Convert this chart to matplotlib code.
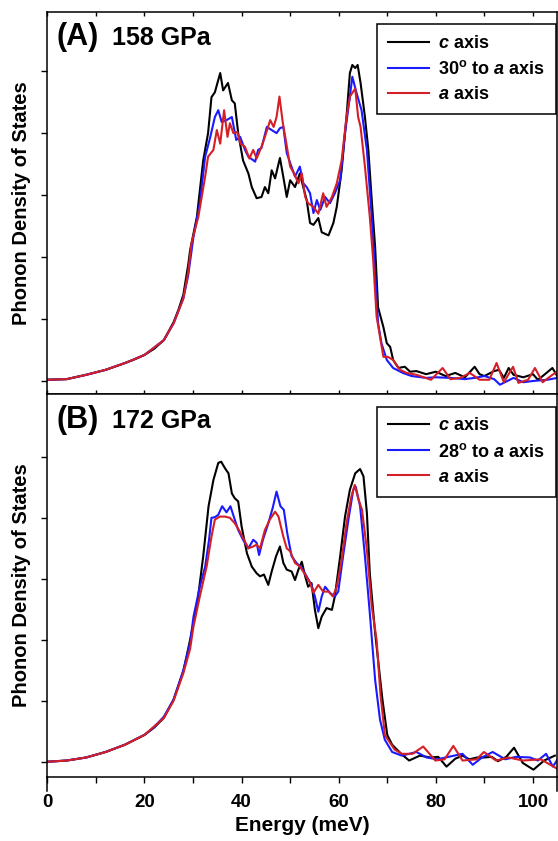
import numpy as np
import matplotlib
matplotlib.use("Agg")
import matplotlib.pyplot as plt

plt.rcParams['font.family'] = ['Liberation Sans', 'DejaVu Sans']
plt.rcParams['font.weight'] = 'bold'
plt.rcParams['mathtext.fontset'] = 'custom'
plt.rcParams['mathtext.rm'] = 'Liberation Sans:bold'
plt.rcParams['mathtext.it'] = 'Liberation Sans:italic:bold'
plt.rcParams['mathtext.bf'] = 'Liberation Sans:bold'

# energy (meV), phonon DOS (arb. units)
a_c = np.array([
    (0, 0.02), (4, 0.03), (8, 0.10), (12, 0.18), (16, 0.29), (18, 0.35), (20, 0.42), (22, 0.52),
    (24, 0.66), (26, 0.95), (27, 1.15), (28, 1.39), (29, 1.87), (29.4, 2.11), (30.8, 2.65),
    (32.1, 3.56), (33.1, 4.00), (33.8, 4.58), (34.5, 4.66), (35.6, 4.97), (36.2, 4.69),
    (37.2, 4.81), (38.0, 4.53), (38.6, 4.48), (39.3, 4.00), (40.3, 3.56), (41.4, 3.35),
    (42.1, 3.13), (43.1, 2.95), (44.1, 2.97), (44.8, 3.13), (45.5, 3.03), (46.2, 3.40),
    (46.9, 3.27), (47.9, 3.60), (48.6, 3.29), (49.3, 2.97), (50.0, 3.24), (51.0, 3.13),
    (52.0, 3.35), (52.7, 3.13), (53.4, 2.92), (54.1, 2.55), (54.8, 2.52), (55.8, 2.63),
    (56.5, 2.40), (57.9, 2.35), (58.9, 2.55), (59.6, 2.81), (60.6, 3.40), (61.6, 4.26),
    (62.3, 4.97), (62.8, 5.10), (63.4, 5.05), (63.9, 5.10), (64.5, 4.81), (65.4, 4.26),
    (66.1, 3.73), (66.8, 2.92), (67.5, 2.16), (68.1, 1.19), (69.2, 0.87), (69.9, 0.61),
    (70.6, 0.55), (71.2, 0.34), (72.3, 0.21), (73.6, 0.23), (74.7, 0.15), (76, 0.16),
    (78, 0.11), (80, 0.15), (82, 0.08), (84, 0.13), (86, 0.06), (88, 0.23), (89, 0.11),
    (90, 0.08), (92, 0.16), (93, 0.18), (94, 0.05), (95, 0.21), (96, 0.10), (98, 0.06),
    (100, 0.11), (101, 0.02), (102, 0.08), (104, 0.21), (105, 0.08)])

a_30 = np.array([
    (0, 0.02), (4, 0.03), (8, 0.10), (12, 0.18), (16, 0.29), (20, 0.42), (24, 0.66), (26, 0.93),
    (28, 1.33), (29, 1.70), (30.1, 2.33), (31.4, 2.87), (32.5, 3.62), (33.5, 3.92), (34.5, 4.26),
    (35.2, 4.37), (35.9, 4.18), (36.9, 4.21), (38.0, 4.26), (38.9, 3.89), (39.7, 3.94),
    (40.7, 3.73), (41.4, 3.62), (42.8, 3.54), (43.4, 3.73), (44.1, 3.76), (45.2, 4.10),
    (46.2, 4.05), (47.2, 4.00), (47.9, 4.08), (48.6, 4.10), (49.3, 3.68), (50.0, 3.52),
    (51.0, 3.30), (52.0, 3.46), (52.7, 3.19), (53.4, 3.13), (54.1, 3.03), (54.8, 2.71),
    (55.5, 2.92), (56.2, 2.76), (57.2, 2.97), (58.2, 2.87), (59.2, 3.03), (60.3, 3.24),
    (61.3, 4.00), (62.2, 4.53), (62.8, 4.91), (63.7, 4.64), (64.7, 4.37), (65.8, 3.73),
    (66.8, 2.65), (67.5, 1.74), (68.1, 0.94), (68.8, 0.61), (69.9, 0.34), (71.2, 0.21),
    (73.2, 0.13), (75, 0.08), (78, 0.05), (80, 0.06), (83, 0.05), (86, 0.03), (88, 0.05),
    (90, 0.08), (92, 0.03), (93.2, -0.06), (96, 0.05), (98, -0.02), (100, 0.0), (103, 0.02),
    (105, 0.05)])

a_a = np.array([
    (0, 0.02), (4, 0.03), (8, 0.10), (12, 0.18), (16, 0.29), (20, 0.42), (24, 0.66), (26, 0.93),
    (28, 1.33), (29, 1.75), (29.7, 2.23), (31.1, 2.65), (32.5, 3.30), (33.1, 3.62), (34.2, 3.73),
    (34.9, 4.05), (35.6, 3.83), (36.4, 4.37), (37.1, 3.94), (37.6, 4.16), (38.3, 4.00),
    (39.1, 4.02), (39.8, 3.83), (40.7, 3.78), (41.6, 3.59), (42.4, 3.73), (43.1, 3.59),
    (44.1, 3.78), (44.8, 3.94), (45.9, 4.21), (46.6, 4.10), (47.2, 4.26), (47.8, 4.59),
    (48.5, 4.16), (49.1, 3.89), (50.0, 3.46), (50.8, 3.35), (51.7, 3.19), (52.4, 3.35),
    (53.1, 2.97), (53.7, 2.87), (54.8, 2.81), (55.8, 2.70), (56.8, 3.03), (57.5, 2.81),
    (58.6, 2.97), (59.6, 3.19), (60.6, 3.56), (61.6, 4.26), (62.3, 4.59), (63.4, 4.72),
    (64.0, 4.26), (64.5, 4.10), (65.4, 3.46), (66.4, 2.65), (67.1, 1.95), (67.8, 1.04),
    (69.2, 0.39), (70.1, 0.39), (71.2, 0.34), (72.6, 0.18), (74, 0.13), (76, 0.10), (79, 0.02),
    (81.4, 0.21), (83, 0.03), (85, 0.05), (87, 0.13), (89, 0.02), (91, 0.02), (92.5, 0.29),
    (94, -0.02), (95.9, 0.23), (97, -0.03), (99, 0.02), (100.4, 0.21), (102, -0.02),
    (104, 0.10), (105, 0.15)])

b_c = np.array([
    (0, 0.0), (4, 0.02), (8, 0.07), (12, 0.16), (16, 0.28), (18, 0.36), (20, 0.44), (22, 0.56),
    (24, 0.72), (26, 1.02), (28, 1.48), (29.4, 2.00), (30.8, 2.55), (32.1, 3.37), (33.2, 4.19),
    (34.2, 4.62), (35.2, 4.90), (35.8, 4.92), (36.6, 4.81), (37.3, 4.73), (38.0, 4.40),
    (38.6, 4.32), (39.3, 4.27), (40.0, 3.86), (41.1, 3.42), (42.1, 3.20), (43.1, 3.09),
    (43.8, 3.04), (44.6, 3.07), (45.5, 2.90), (46.2, 3.12), (47.1, 3.37), (47.9, 3.53),
    (48.6, 3.26), (49.3, 3.15), (50.3, 3.12), (51.0, 2.98), (51.7, 3.15), (52.4, 3.28),
    (53.1, 3.04), (53.7, 2.87), (54.4, 2.93), (55.1, 2.49), (55.8, 2.19), (56.5, 2.38),
    (57.5, 2.52), (58.6, 2.49), (59.2, 2.71), (60.3, 3.37), (61.3, 4.02), (62.3, 4.46),
    (63.4, 4.73), (64.4, 4.80), (65.1, 4.68), (65.8, 4.08), (66.4, 3.09), (67.5, 2.11),
    (69, 1.02), (70, 0.44), (71, 0.28), (72, 0.20), (73, 0.12), (74.5, 0.02), (76.7, 0.10),
    (78.9, 0.07), (80.5, 0.08), (82.2, -0.08), (84, 0.05), (85.5, 0.10), (86.9, 0.04),
    (88.5, 0.07), (89.9, 0.07), (91.5, 0.08), (92.8, 0.01), (94.5, 0.08), (96.1, 0.23),
    (97.9, -0.02), (100.1, -0.13), (102.3, 0.02), (104.5, 0.10)])

b_28 = np.array([
    (0, 0.0), (4, 0.02), (8, 0.07), (12, 0.16), (16, 0.28), (20, 0.44), (22, 0.57), (24, 0.74),
    (26, 1.02), (28, 1.50), (29.4, 1.95), (30.1, 2.38), (31.4, 2.87), (32.5, 3.20), (33.3, 3.64),
    (33.8, 4.00), (34.5, 4.01), (35.2, 4.05), (36.0, 4.19), (36.9, 4.09), (37.7, 4.19),
    (38.6, 3.97), (39.3, 3.80), (40.3, 3.64), (41.4, 3.50), (42.4, 3.64), (43.1, 3.59),
    (43.6, 3.39), (44.4, 3.64), (45.5, 3.91), (46.4, 4.16), (47.2, 4.43), (48.0, 4.19),
    (48.7, 4.13), (49.4, 3.75), (50.3, 3.37), (51.3, 3.26), (52.4, 3.18), (53.4, 3.04),
    (54.4, 2.90), (55.1, 2.71), (55.8, 2.46), (56.5, 2.71), (57.2, 2.87), (58.2, 2.77),
    (59.2, 2.71), (59.9, 2.79), (60.9, 3.37), (62.0, 3.97), (63.0, 4.46), (63.5, 4.51),
    (64.4, 4.19), (65.4, 3.37), (66.4, 2.44), (67.5, 1.34), (68.5, 0.69), (69.5, 0.36),
    (71, 0.16), (73, 0.10), (76, 0.16), (78.1, 0.07), (80.3, 0.04), (82, 0.07), (85.5, 0.13),
    (87.6, -0.05), (89.5, 0.07), (91.7, 0.16), (94.3, 0.04), (96.5, 0.08), (99.4, 0.07),
    (101, 0.02), (102.7, 0.13), (104.1, -0.08), (105, 0.03)])

b_a = np.array([
    (0, 0.0), (4, 0.02), (8, 0.07), (12, 0.16), (16, 0.28), (20, 0.44), (24, 0.72), (26, 1.00),
    (28, 1.45), (29.4, 1.85), (30.1, 2.22), (31.4, 2.71), (32.8, 3.20), (33.8, 3.69), (34.5, 3.97),
    (35.5, 4.02), (36.6, 4.02), (37.6, 4.00), (38.6, 3.91), (39.6, 3.78), (40.7, 3.61),
    (41.4, 3.50), (42.4, 3.53), (43.1, 3.56), (43.8, 3.50), (44.8, 3.80), (45.8, 3.97),
    (46.9, 4.10), (47.6, 4.02), (48.6, 3.69), (49.3, 3.50), (50.0, 3.45), (51.0, 3.26),
    (52.0, 3.20), (53.1, 3.07), (54.1, 2.93), (54.8, 2.77), (55.8, 2.90), (56.8, 2.79),
    (57.9, 2.79), (58.8, 2.71), (59.6, 2.87), (60.6, 3.31), (61.6, 3.91), (62.6, 4.35),
    (63.3, 4.54), (64.0, 4.32), (64.8, 4.13), (65.8, 3.48), (66.8, 2.55), (67.8, 2.00),
    (68.6, 1.10), (69.5, 0.44), (71.5, 0.20), (73, 0.13), (75.2, 0.13), (77.4, 0.25),
    (79.9, 0.02), (81.8, 0.04), (83.6, 0.26), (85.5, 0.02), (88.4, 0.04), (89.9, 0.16),
    (92.4, 0.02), (95.0, 0.07), (97.9, 0.02), (101.6, 0.04), (104.9, -0.11)])

labels_a = ['$c$ axis', '30$^{\\mathrm{o}}$ to $a$ axis', '$a$ axis']
labels_b = ['$c$ axis', '28$^{\\mathrm{o}}$ to $a$ axis', '$a$ axis']
colors = ['black', '#1a1aff', '#d41f26']

fig = plt.figure(figsize=(5.58, 8.41), dpi=100)
axA = fig.add_axes([0.0848, 0.5315, 0.913, 0.4546])
axB = fig.add_axes([0.0848, 0.0761, 0.913, 0.4554])

panels = [(axA, [a_c, a_30, a_a], labels_a, '(A)', '158 GPa', (-0.21, 5.96)),
          (axB, [b_c, b_28, b_a], labels_b, '(B)', '172 GPa', (-0.25, 6.03))]

for ax, curves, labels, tag, press, ylim in panels:
    for d, c, lab in zip(curves, colors, labels):
        ax.plot(d[:, 0], d[:, 1], color=c, lw=1.5, label=lab)
    ax.set_xlim(0, 104.9)
    ax.set_ylim(*ylim)
    ax.set_yticks(np.arange(0, 6))
    ax.set_yticklabels([])
    ax.set_xticks(np.arange(0, 101, 20))
    ax.set_xticks(np.arange(0, 105, 10), minor=True)
    ax.tick_params(axis='y', direction='out', length=4, width=1)
    for sp in ax.spines.values():
        sp.set_linewidth(1.1)
    ax.text(0.019, 0.912, tag, transform=ax.transAxes, fontsize=22, fontweight='bold', va='baseline')
    ax.text(0.126, 0.912, press, transform=ax.transAxes, fontsize=18, fontweight='bold', va='baseline')
    ax.set_ylabel('Phonon Density of States', fontsize=14.5, fontweight='bold')
    ax.yaxis.set_label_coords(-0.033, 0.5)
    leg = ax.legend(loc='upper right', bbox_to_anchor=(0.998, 0.967), fontsize=13,
                    handlelength=2.3, handletextpad=0.5, borderpad=0.6, labelspacing=0.45,
                    borderaxespad=0, fancybox=False, framealpha=1, edgecolor='black')
    leg.get_frame().set_linewidth(1.1)

axA.tick_params(axis='x', which='both', direction='in', top=True, labelbottom=False, length=3, width=1)
axA.tick_params(axis='x', which='both', labeltop=False)
axB.tick_params(axis='x', which='both', direction='out', length=4, width=1, labelsize=13.5, pad=8)
axB.set_xlabel('Energy (meV)', fontsize=15, fontweight='bold', labelpad=4)
for x in (0, 1):
    axB.plot([x, x], [0, -0.037], transform=axB.transAxes, color='black', lw=1.1, clip_on=False)

fig.savefig('out.png', dpi=100)
